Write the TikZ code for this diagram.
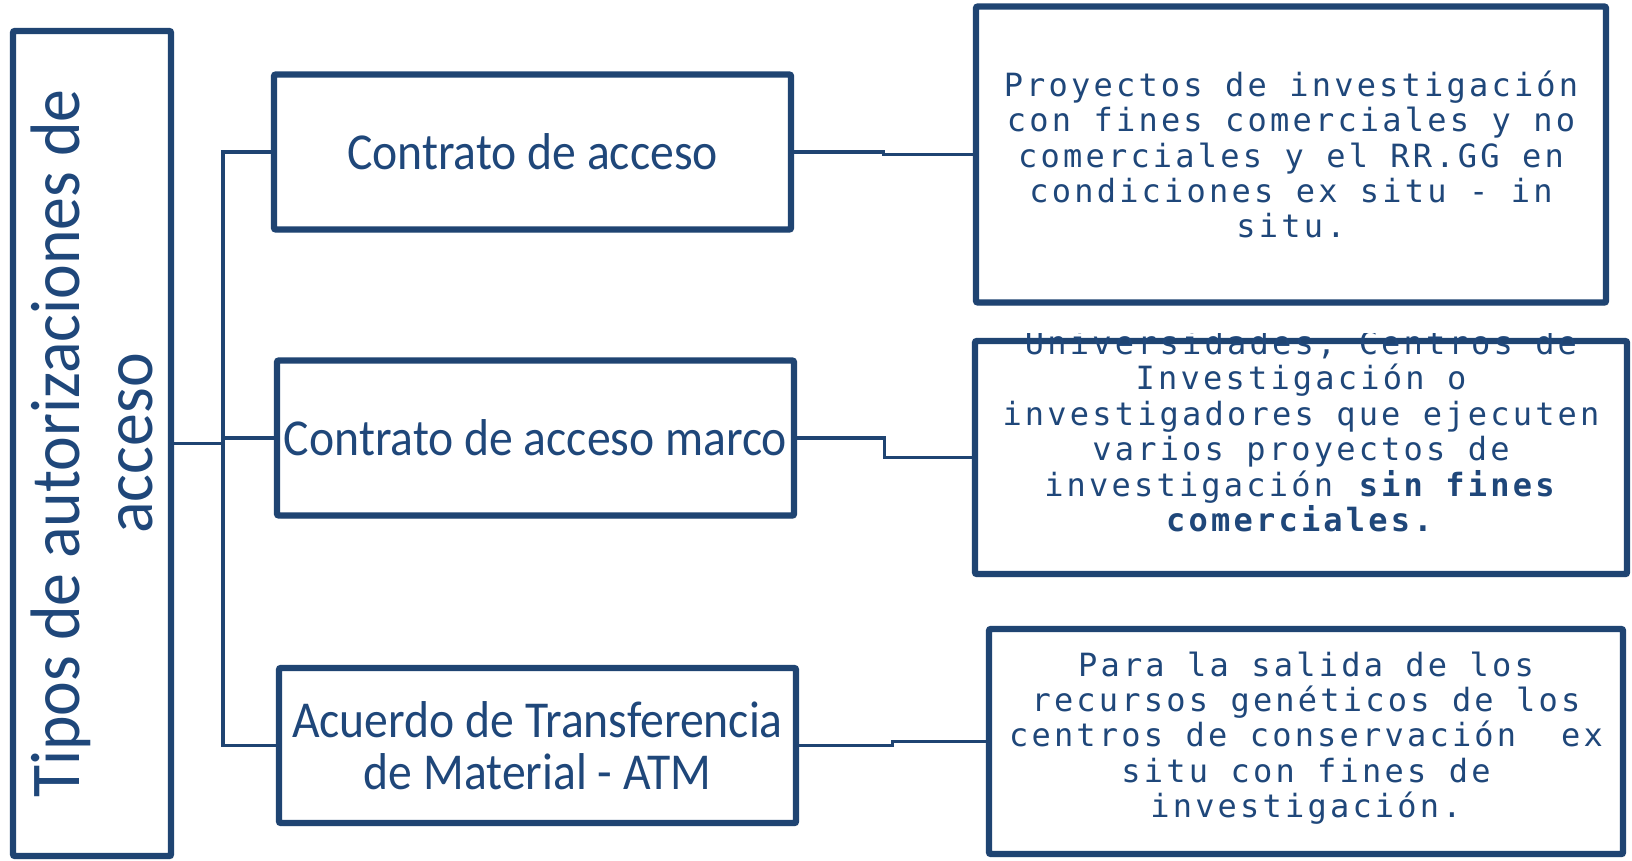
\documentclass[tikz,border=0pt]{standalone}
\usepackage{fontspec}
\usetikzlibrary{positioning, calc, shadows}

\newfontfamily\titlefont[FakeStretch=0.94]{Carlito}
\newfontfamily\typefont[FakeStretch=0.92]{Carlito}
\newfontfamily\notefont[LetterSpace=10]{DejaVu Sans Mono}
\definecolor{borderblue}{RGB}{31,68,114}
\definecolor{textblue}{RGB}{31,71,122}

\begin{document}
\begin{tikzpicture}[
    x=0.5pt, y=-0.5pt,
    % Define styles
    panel/.style={rectangle, draw=borderblue, line width=3.2pt, fill=white, rounded corners=1pt, text=textblue, drop shadow={opacity=0.25, shadow xshift=1.2pt, shadow yshift=-1.5pt}},
    titlebox/.style={panel, minimum width=79pt, minimum height=412.5pt},
    typebox/.style={panel, minimum width=258.5pt, minimum height=77.5pt, inner sep=2pt, align=center, font=\typefont\fontsize{25.9}{25.8}\selectfont},
    notebox/.style={panel, inner sep=0pt, align=center, font=\notefont\fontsize{16}{17.7}\selectfont},
    notetext/.style={inner sep=0pt, align=center, text=textblue, font=\notefont\fontsize{16}{17.7}\selectfont},
    line/.style={draw=borderblue, line width=1.8pt}
]
\useasboundingbox (0,0) rectangle (1632,861);
\fill[white] (0,0) rectangle (1632,861);

% Title box
\node[titlebox] (tipos) at (92,443.5) {};
\node[rotate=90, align=center, text=textblue, font=\titlefont\fontsize{35}{36.5}\selectfont] (tipostxt) at (tipos.center) {Tipos de autorizaciones de\\acceso};

% Types of authorization
\node[typebox] (acceso) at (532.5,152) {Contrato de acceso};
\node[typebox] (marco) at (535.5,438) {Contrato de acceso marco};
\node[typebox] (atm) at (537.5,745.5) {Acuerdo de Transferencia\\de Material - ATM};

% Descriptions
\node[notebox, minimum width=315pt, minimum height=148pt] (desc1) at (1291,154.5) {Proyectos de investigación\\con fines comerciales y no\\comerciales y el RR.GG en\\condiciones ex situ - in\\situ.};
\node[notebox, minimum width=326pt, minimum height=116.5pt] (desc2) at (1301,457.5) {};
\begin{scope}
    \clip (968,333) rectangle (1632,582);
    \node[notetext] (desc2txt) at (1301,431) {Universidades, Centros de\\Investigación o\\investigadores que ejecuten\\varios proyectos de\\investigación \textbf{sin fines}\\\textbf{comerciales.}};
\end{scope}
\node[notebox, minimum width=317pt, minimum height=112.5pt] (desc3) at (1306,741.5) {};
\node[notetext] (desc3txt) at (1306,738) {Para la salida de los\\recursos genéticos de los\\centros de conservación\ \ ex\\situ con fines de\\investigación.};

% Connect title to the types
\coordinate (fork) at (223,443.5);
\draw[line] (tipos.east) -- (fork);
\draw[line] (fork) |- (acceso.west);
\draw[line] (fork) |- (marco.west);
\draw[line] (fork) |- (atm.west);

% Connect types to their descriptions
\draw[line] (acceso.east) -| ($(acceso.east)!0.5!(desc1.west)$) |- (desc1.west);
\draw[line] (marco.east) -| ($(marco.east)!0.5!(desc2.west)$) |- (desc2.west);
\draw[line] (atm.east) -| ($(atm.east)!0.5!(desc3.west)$) |- (desc3.west);

\end{tikzpicture}
\end{document}
